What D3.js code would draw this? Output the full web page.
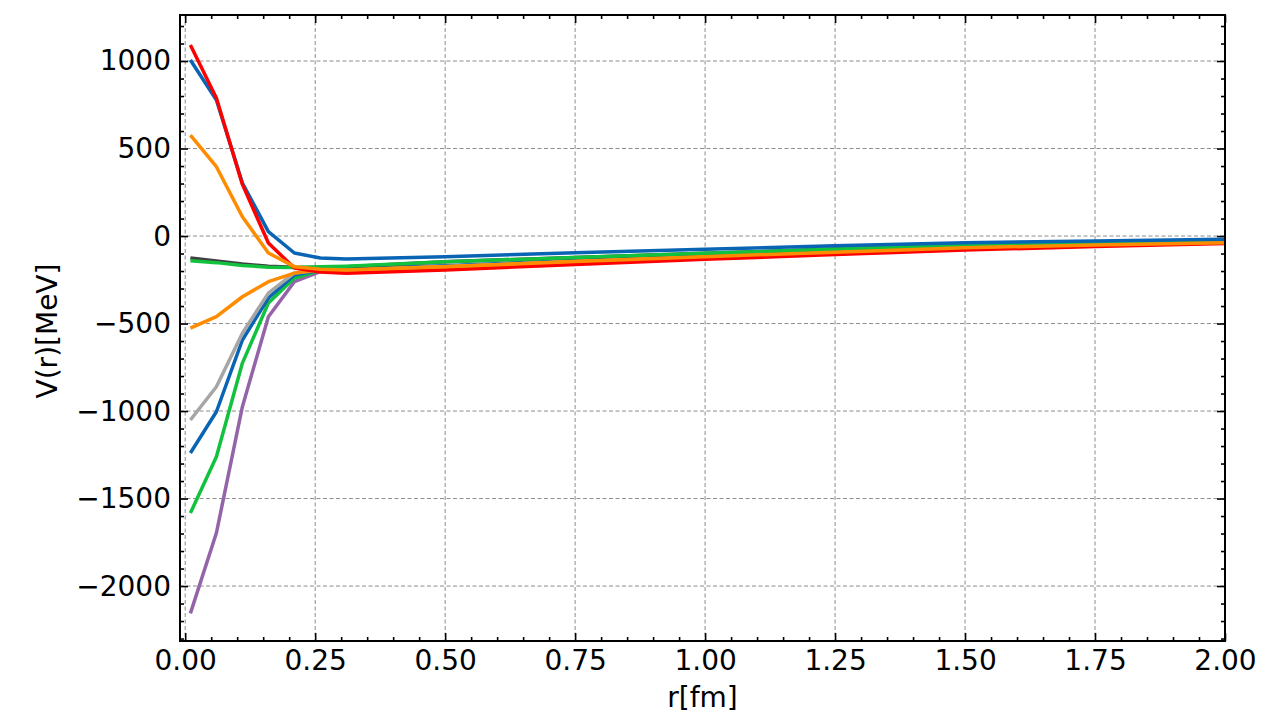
<!DOCTYPE html>
<html>
<head>
<meta charset="utf-8">
<script src="https://cdn.jsdelivr.net/npm/d3@7"></script>
<style>
body { margin: 0; background: #fff; }
text { font-family: "DejaVu Sans", sans-serif; fill: #000; }
</style>
</head>
<body>
<svg id="chart" width="1266" height="714"></svg>
<script>
// r values shared by every curve
const radii = [0.01, 0.06, 0.11, 0.16, 0.21, 0.26, 0.31, 0.5, 0.75, 1.0, 1.25, 1.5, 1.75, 2.0];

const purpleCurve    = [-2156, -1697, -975, -461, -261, -204, -196, -178, -148, -120, -94, -69, -52, -38];
const greenLowCurve  = [-1583, -1261, -726, -383, -240, -196, -190, -172, -143, -115, -89, -65, -48, -35];
const blueLowCurve   = [-1240, -1004, -594, -354, -223, -194, -188, -170, -141, -113, -87, -63, -47, -34];
const grayLowCurve   = [-1051, -861, -555, -326, -211, -195, -192, -174, -145, -117, -91, -66, -50, -37];
const orangeLowCurve = [-526, -461, -347, -261, -212, -192, -194, -175, -146, -118, -92, -67, -51, -38];
const darkGrayCurve  = [-125, -142, -160, -172, -178, -180, -176, -147, -122, -99, -74, -51, -38, -27];
const greenMidCurve  = [-141, -152, -168, -178, -180, -176, -172, -147, -122, -99, -74, -51, -38, -27];
const blueUpCurve    = [1006, 777, 303, 25, -97, -126, -131, -118, -96, -76, -56, -38, -28, -19];
const redUpCurve     = [1091, 789, 295, -40, -183, -206, -212, -194, -163, -133, -106, -80, -60, -42];
const orangeUpCurve  = [577, 396, 110, -97, -175, -190, -194, -175, -146, -118, -92, -67, -51, -38];

const xMajor = [0, 0.25, 0.5, 0.75, 1.0, 1.25, 1.5, 1.75, 2.0];
const yMajor = [-2000, -1500, -1000, -500, 0, 500, 1000];

// drawing order matters, later ones sit on top
const curves = [
    { color: "#9364a8", values: purpleCurve },
    { color: "#12c23e", values: greenLowCurve },
    { color: "#0a64b4", values: blueLowCurve },
    { color: "#a6a6a6", values: grayLowCurve },
    { color: "#ff8c00", values: orangeLowCurve },
    { color: "#404040", values: darkGrayCurve },
    { color: "#12c23e", values: greenMidCurve },
    { color: "#0a64b4", values: blueUpCurve },
    { color: "#ff0000", values: redUpCurve },
    { color: "#ff8c00", values: orangeUpCurve }
];

const plotLeft = 180, plotRight = 1225, plotTop = 15, plotBottom = 641;
const svg = d3.select("#chart");

const x = d3.scaleLinear().domain([-0.01, 2.0]).range([plotLeft, plotRight]);
const y = d3.scaleLinear().domain([-2314, 1263]).range([plotBottom, plotTop]);

const xMinor = d3.range(0, 2.0001, 0.05).filter(v => Math.abs(v / 0.25 - Math.round(v / 0.25)) > 1e-6);
const yMinor = d3.range(-2300, 1201, 100).filter(v => v % 500 !== 0);

// grid
const grid = svg.append("g");
grid.selectAll(".gx").data(xMajor).join("line")
    .attr("x1", d => x(d)).attr("x2", d => x(d))
    .attr("y1", plotTop).attr("y2", plotBottom);
grid.selectAll(".gy").data(yMajor).join("line")
    .attr("x1", plotLeft).attr("x2", plotRight)
    .attr("y1", d => y(d)).attr("y2", d => y(d));
grid.selectAll("line")
    .attr("stroke", "#6e6e6e")
    .attr("stroke-width", 0.8)
    .attr("stroke-dasharray", "4,2.5");

// curves
const line = d3.line()
    .x((d, i) => x(radii[i]))
    .y(d => y(d));

svg.append("g").selectAll("path").data(curves).join("path")
    .attr("d", d => line(d.values))
    .attr("fill", "none")
    .attr("stroke", d => d.color)
    .attr("stroke-width", 3.5)
    .attr("stroke-linejoin", "round");

// axes, ticks pointing inward on all four sides
function addAxis(axis, tx, ty, vals, size, fmt) {
    const g = svg.append("g")
        .attr("transform", `translate(${tx},${ty})`)
        .call(axis.tickValues(vals).tickSize(-size).tickPadding(9).tickFormat(fmt));
    g.select(".domain").remove();
    g.selectAll("line").attr("stroke", "#000").attr("stroke-width", 1.6);
    g.selectAll("text").attr("font-size", 28).attr("font-family", "DejaVu Sans, sans-serif");
    return g;
}
const none = () => "";
addAxis(d3.axisBottom(x), 0, plotBottom, xMajor, 8, d3.format(".2f"));
addAxis(d3.axisBottom(x), 0, plotBottom, xMinor, 4, none);
addAxis(d3.axisTop(x), 0, plotTop, xMajor, 8, none);
addAxis(d3.axisTop(x), 0, plotTop, xMinor, 4, none);
addAxis(d3.axisLeft(y), plotLeft, 0, yMajor, 8, d3.format("d"));
addAxis(d3.axisLeft(y), plotLeft, 0, yMinor, 4, none);
addAxis(d3.axisRight(y), plotRight, 0, yMajor, 8, none);
addAxis(d3.axisRight(y), plotRight, 0, yMinor, 4, none);

svg.append("rect")
    .attr("x", plotLeft).attr("y", plotTop)
    .attr("width", plotRight - plotLeft).attr("height", plotBottom - plotTop)
    .attr("fill", "none").attr("stroke", "#000").attr("stroke-width", 2);

svg.append("text")
    .attr("x", (plotLeft + plotRight) / 2).attr("y", 707)
    .attr("text-anchor", "middle").attr("font-size", 28)
    .text("r[fm]");

svg.append("text")
    .attr("transform", `translate(57,${(plotTop + plotBottom) / 2 + 3}) rotate(-90)`)
    .attr("text-anchor", "middle").attr("font-size", 28)
    .text("V(r)[MeV]");
</script>
</body>
</html>
